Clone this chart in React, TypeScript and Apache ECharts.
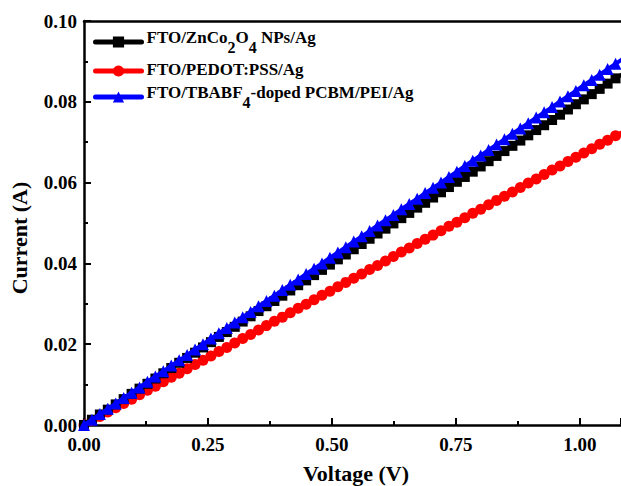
import React, { useEffect, useRef } from "react";
import * as echarts from "echarts";

const voltage = [
  0, 0.016, 0.032, 0.048, 0.064, 0.08, 0.096, 0.112, 0.128, 0.144,
  0.16, 0.176, 0.192, 0.208, 0.224, 0.24, 0.256, 0.272, 0.288, 0.304,
  0.32, 0.336, 0.352, 0.368, 0.384, 0.4, 0.416, 0.432, 0.448, 0.464,
  0.48, 0.496, 0.512, 0.528, 0.544, 0.56, 0.576, 0.592, 0.608, 0.624,
  0.64, 0.656, 0.672, 0.688, 0.704, 0.72, 0.736, 0.752, 0.768, 0.784,
  0.8, 0.816, 0.832, 0.848, 0.864, 0.88, 0.896, 0.912, 0.928, 0.944,
  0.96, 0.976, 0.992, 1.008, 1.024, 1.04, 1.056, 1.072, 1.088,
];

const znCo2O4 = [
  0, 0.0013, 0.0026, 0.0038, 0.0051, 0.0064, 0.0077, 0.009, 0.0102, 0.0115,
  0.0128, 0.0141, 0.0154, 0.0166, 0.0179, 0.0192, 0.0205, 0.0218, 0.023, 0.0243,
  0.0256, 0.0269, 0.0282, 0.0294, 0.0307, 0.032, 0.0333, 0.0346, 0.0358, 0.0371,
  0.0384, 0.0397, 0.041, 0.0422, 0.0435, 0.0448, 0.0461, 0.0474, 0.0486, 0.0499,
  0.0512, 0.0525, 0.0538, 0.055, 0.0563, 0.0576, 0.0589, 0.0602, 0.0614, 0.0627,
  0.064, 0.0653, 0.0666, 0.0678, 0.0691, 0.0704, 0.0717, 0.073, 0.0742, 0.0755,
  0.0768, 0.0781, 0.0794, 0.0806, 0.0819, 0.0832, 0.0845, 0.0858, 0.087,
];

const pedotPss = [
  0, 0.0011, 0.0021, 0.0032, 0.0043, 0.0053, 0.0064, 0.0075, 0.0086, 0.0096,
  0.0107, 0.0118, 0.0128, 0.0139, 0.015, 0.016, 0.0171, 0.0182, 0.0192, 0.0203,
  0.0214, 0.0224, 0.0235, 0.0246, 0.0257, 0.0267, 0.0278, 0.0289, 0.0299, 0.031,
  0.0321, 0.0331, 0.0342, 0.0353, 0.0363, 0.0374, 0.0385, 0.0395, 0.0406, 0.0417,
  0.0428, 0.0438, 0.0449, 0.046, 0.047, 0.0481, 0.0492, 0.0502, 0.0513, 0.0524,
  0.0534, 0.0545, 0.0556, 0.0566, 0.0577, 0.0588, 0.0599, 0.0609, 0.062, 0.0631,
  0.0641, 0.0652, 0.0663, 0.0673, 0.0684, 0.0695, 0.0705, 0.0716, 0.0727,
];

const tbabfPcbm = [
  0, 0.0013, 0.0027, 0.004, 0.0053, 0.0067, 0.008, 0.0093, 0.0107, 0.012,
  0.0133, 0.0147, 0.016, 0.0173, 0.0187, 0.02, 0.0214, 0.0227, 0.024, 0.0254,
  0.0267, 0.028, 0.0294, 0.0307, 0.032, 0.0334, 0.0347, 0.036, 0.0374, 0.0387,
  0.04, 0.0414, 0.0427, 0.044, 0.0454, 0.0467, 0.048, 0.0494, 0.0507, 0.052,
  0.0534, 0.0547, 0.056, 0.0574, 0.0587, 0.06, 0.0614, 0.0627, 0.0641, 0.0654,
  0.0667, 0.0681, 0.0694, 0.0707, 0.0721, 0.0734, 0.0747, 0.0761, 0.0774, 0.0787,
  0.0801, 0.0814, 0.0827, 0.0841, 0.0854, 0.0867, 0.0881, 0.0894, 0.0907,
];

const seriesNames = [
  "FTO/ZnCo2O4 NPs/Ag",
  "FTO/PEDOT:PSS/Ag",
  "FTO/TBABF4-doped PCBM/PEI/Ag",
];

const FONT = "'Liberation Serif', 'Times New Roman', serif";

export default function App() {
  const ref = useRef<HTMLDivElement>(null);
  useEffect(() => {
    document.body.style.margin = "0";
    const chart = echarts.init(ref.current!, null, { renderer: "svg" });
    const pair = (ys: number[]) => voltage.map((v, i) => [v, ys[i]]);
    const axisLine = { lineStyle: { color: "#000", width: 2.5 } };
    chart.setOption({
      animation: false,
      backgroundColor: "#fff",
      textStyle: { fontFamily: FONT },
      grid: { left: 84, top: 21, right: 0, bottom: 61, containLabel: false, outerBoundsMode: "none" },
      legend: {
        orient: "vertical",
        left: 88,
        top: 24,
        itemWidth: 46,
        itemHeight: 14,
        itemGap: 6,
        data: seriesNames,
        lineStyle: { width: 5, cap: "round" },
        formatter: (name: string) => {
          if (name === seriesNames[0])
            return "{a|FTO/ZnCo}{s|2}{a|O}{s|4}{a| NPs/Ag}";
          if (name === seriesNames[2])
            return "{a|FTO/TBABF}{s|4}{a|-doped PCBM/PEI/Ag}";
          return "{a|" + name + "}";
        },
        textStyle: {
          fontFamily: FONT,
          fontWeight: "bold",
          fontSize: 17,
          color: "#000",
          rich: {
            a: { fontFamily: FONT, fontWeight: "bold", fontSize: 17, color: "#000", lineHeight: 20, verticalAlign: "top" },
            s: { fontFamily: FONT, fontWeight: "bold", fontSize: 16, color: "#000", lineHeight: 26, verticalAlign: "bottom", padding: [8, 0, 0, 0] },
          },
        },
      },
      xAxis: [
        {
          type: "value",
          min: 0,
          max: 1.083,
          interval: 0.25,
          name: "Voltage (V)",
          nameLocation: "middle",
          nameGap: 37,
          nameTextStyle: { fontFamily: FONT, fontWeight: "bold", fontSize: 22, color: "#000", padding: [0, 0, 0, 7] },
          axisLine,
          axisTick: { inside: true, length: 7, lineStyle: { color: "#000", width: 2 } },
          minorTick: { show: true, splitNumber: 2, length: 4, lineStyle: { color: "#000", width: 2 } },
          splitLine: { show: false },
          axisLabel: {
            showMaxLabel: false,
            margin: 10,
            fontFamily: FONT,
            fontWeight: "bold",
            fontSize: 19,
            color: "#000",
            formatter: (v: number) => v.toFixed(2),
          },
        },
        {
          type: "value",
          position: "top",
          min: 0,
          max: 1.083,
          axisLine,
          axisTick: { show: false },
          axisLabel: { show: false },
          splitLine: { show: false },
        },
      ],
      yAxis: {
        type: "value",
        min: 0,
        max: 0.1,
        interval: 0.02,
        name: "Current (A)",
        nameLocation: "middle",
        nameGap: 54,
        nameTextStyle: { fontFamily: FONT, fontWeight: "bold", fontSize: 22, color: "#000", padding: [0, 30, 0, 0] },
        axisLine: { show: true, ...axisLine },
        axisTick: { inside: true, length: 7, lineStyle: { color: "#000", width: 2 } },
        minorTick: { show: true, splitNumber: 2, length: 4, lineStyle: { color: "#000", width: 2 } },
        splitLine: { show: false },
        axisLabel: {
          margin: 7,
          fontFamily: FONT,
          fontWeight: "bold",
          fontSize: 19,
          color: "#000",
          formatter: (v: number) => v.toFixed(2),
        },
      },
      series: [
        {
          name: seriesNames[0],
          type: "line",
          data: pair(znCo2O4),
          symbol: "rect",
          symbolSize: 10,
          color: "#000000",
          lineStyle: { width: 4, color: "#000000" },
          itemStyle: { color: "#000000" },
          z: 3,
        },
        {
          name: seriesNames[1],
          type: "line",
          data: pair(pedotPss),
          symbol: "circle",
          symbolSize: 11,
          color: "#ff0000",
          lineStyle: { width: 4, color: "#ff0000" },
          itemStyle: { color: "#ff0000" },
          z: 2,
        },
        {
          name: seriesNames[2],
          type: "line",
          data: pair(tbabfPcbm),
          symbol: "triangle",
          symbolSize: 12,
          color: "#0000ff",
          lineStyle: { width: 4, color: "#0000ff" },
          itemStyle: { color: "#0000ff" },
          z: 4,
        },
      ],
    });
    return () => chart.dispose();
  }, []);
  return <div ref={ref} style={{ width: 621, height: 486 }} />;
}
